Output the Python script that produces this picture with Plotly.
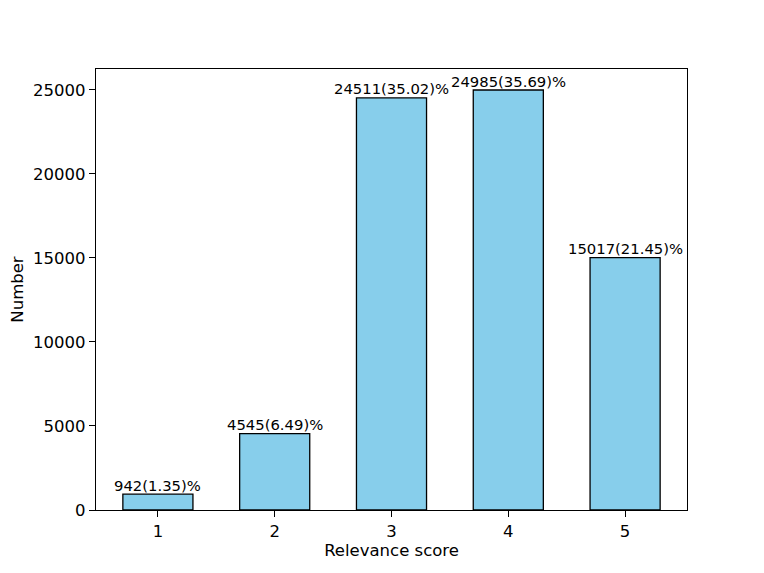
import plotly.graph_objects as go

scores = [1, 2, 3, 4, 5]
counts = [942, 4545, 24511, 24985, 15017]
percents = [1.35, 6.49, 35.02, 35.69, 21.45]
labels = [f"{c}({p:.2f})%" for c, p in zip(counts, percents)]
yticks = [0, 5000, 10000, 15000, 20000, 25000]

FONT = "DejaVu Sans"

fig = go.Figure(go.Bar(
    x=scores, y=counts, width=0.6,
    marker=dict(color="#87CEEB", line=dict(color="black", width=1.3)),
))

for s, c, lab in zip(scores, counts, labels):
    fig.add_annotation(x=s, y=c, text=lab, showarrow=False, xanchor="center",
                       yanchor="bottom", yshift=-1.5,
                       font=dict(family=FONT, size=14.8, color="black"))

axis_common = dict(showline=True, linecolor="black", linewidth=1.2, mirror=True,
                   ticks="outside", ticklen=6, tickcolor="black", tickwidth=1.2,
                   showgrid=False, zeroline=False, automargin=False,
                   tickfont=dict(family=FONT, size=16.5, color="black"))

fig.update_layout(
    width=756, height=565,
    margin=dict(l=88, r=77, t=61, b=63),
    plot_bgcolor="white", paper_bgcolor="white",
    showlegend=False,
    xaxis=dict(range=[0.47, 5.53], tickvals=scores, ticktext=[str(s) for s in scores],
               title=dict(text="Relevance score", font=dict(family=FONT, size=16.5, color="black"), standoff=4),
               **axis_common),
    yaxis=dict(range=[0, 26234], tickvals=yticks, ticktext=[str(v) for v in yticks],
               title=dict(text="Number", font=dict(family=FONT, size=16.5, color="black"), standoff=27),
               **axis_common),
)

fig.write_html("out.html")
